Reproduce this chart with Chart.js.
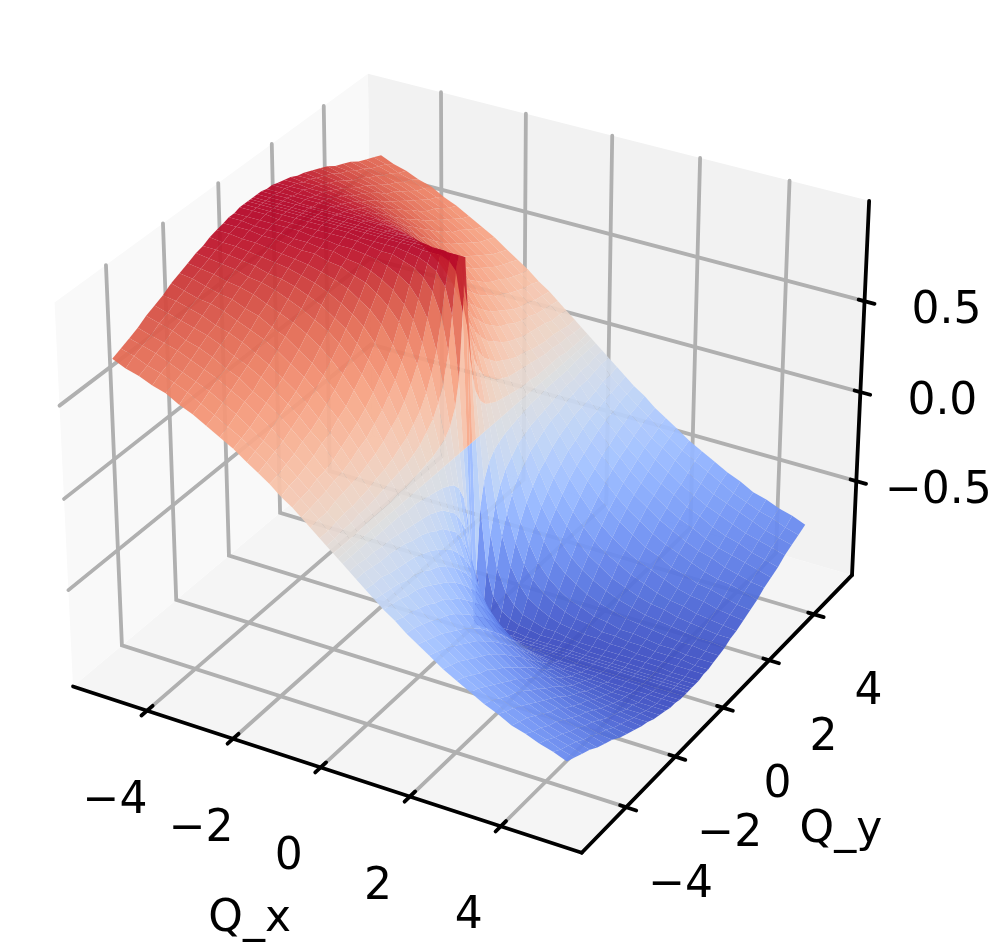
<!DOCTYPE html>
<html>
<head>
<meta charset="utf-8">
<style>
  html, body { margin: 0; padding: 0; background: #fff; }
  canvas { display: block; }
</style>
<script src="https://cdn.jsdelivr.net/npm/chart.js@4"></script>
</head>
<body>
<canvas id="surface" width="996" height="948"></canvas>
<script>
// grid nodes of the surface, finer around the centre where it folds
const qxNodes = [-5,-4.7,-4.4,-4.1,-3.8,-3.5,-3.2,-2.9,-2.6,-2.3,-2,-1.75,-1.5,-1.25,-1,-0.8,-0.6,-0.4,-0.25,-0.1,0,0.1,0.25,0.4,0.6,0.8,1,1.25,1.5,1.75,2,2.3,2.6,2.9,3.2,3.5,3.8,4.1,4.4,4.7,5];
const qyNodes = [-5,-4.7,-4.4,-4.1,-3.8,-3.5,-3.2,-2.9,-2.6,-2.3,-2,-1.75,-1.5,-1.25,-1,-0.8,-0.6,-0.4,-0.25,-0.1,0,0.1,0.25,0.4,0.6,0.8,1,1.25,1.5,1.75,2,2.3,2.6,2.9,3.2,3.5,3.8,4.1,4.4,4.7,5];

// height, one row per qyNodes entry, one column per qxNodes entry
const zRows = [
  [.71,.68,.66,.63,.61,.57,.54,.50,.46,.42,.37,.33,.29,.24,.20,.16,.12,.08,.05,.02,0,-.02,-.05,-.08,-.12,-.16,-.20,-.24,-.29,-.33,-.37,-.42,-.46,-.50,-.54,-.57,-.61,-.63,-.66,-.68,-.71],
  [.73,.71,.68,.66,.63,.60,.56,.52,.48,.44,.39,.35,.30,.26,.21,.17,.13,.08,.05,.02,0,-.02,-.05,-.08,-.13,-.17,-.21,-.26,-.30,-.35,-.39,-.44,-.48,-.52,-.56,-.60,-.63,-.66,-.68,-.71,-.73],
  [.75,.73,.71,.68,.65,.62,.59,.55,.51,.46,.41,.37,.32,.27,.22,.18,.13,.09,.06,.02,0,-.02,-.06,-.09,-.13,-.18,-.22,-.27,-.32,-.37,-.41,-.46,-.51,-.55,-.59,-.62,-.65,-.68,-.71,-.73,-.75],
  [.77,.75,.73,.71,.68,.65,.62,.58,.54,.49,.44,.39,.34,.29,.24,.19,.15,.10,.06,.02,0,-.02,-.06,-.10,-.15,-.19,-.24,-.29,-.34,-.39,-.44,-.49,-.54,-.58,-.62,-.65,-.68,-.71,-.73,-.75,-.77],
  [.80,.78,.76,.73,.71,.68,.64,.61,.56,.52,.47,.42,.37,.31,.25,.21,.16,.10,.07,.03,0,-.03,-.07,-.10,-.16,-.21,-.25,-.31,-.37,-.42,-.47,-.52,-.56,-.61,-.64,-.68,-.71,-.73,-.76,-.78,-.80],
  [.82,.80,.78,.76,.74,.71,.67,.64,.60,.55,.50,.45,.39,.34,.27,.22,.17,.11,.07,.03,0,-.03,-.07,-.11,-.17,-.22,-.27,-.34,-.39,-.45,-.50,-.55,-.60,-.64,-.67,-.71,-.74,-.76,-.78,-.80,-.82],
  [.84,.83,.81,.79,.76,.74,.71,.67,.63,.58,.53,.48,.42,.36,.30,.24,.18,.12,.08,.03,0,-.03,-.08,-.12,-.18,-.24,-.30,-.36,-.42,-.48,-.53,-.58,-.63,-.67,-.71,-.74,-.76,-.79,-.81,-.83,-.84],
  [.87,.85,.83,.82,.80,.77,.74,.71,.67,.62,.57,.52,.46,.40,.33,.27,.20,.14,.09,.03,0,-.03,-.09,-.14,-.20,-.27,-.33,-.40,-.46,-.52,-.57,-.62,-.67,-.71,-.74,-.77,-.80,-.82,-.83,-.85,-.87],
  [.89,.88,.86,.84,.83,.80,.78,.74,.71,.66,.61,.56,.50,.43,.36,.29,.22,.15,.10,.04,0,-.04,-.10,-.15,-.22,-.29,-.36,-.43,-.50,-.56,-.61,-.66,-.71,-.74,-.78,-.80,-.83,-.84,-.86,-.88,-.89],
  [.91,.90,.89,.87,.86,.84,.81,.78,.75,.71,.66,.61,.55,.48,.40,.33,.25,.17,.11,.04,0,-.04,-.11,-.17,-.25,-.33,-.40,-.48,-.55,-.61,-.66,-.71,-.75,-.78,-.81,-.84,-.86,-.87,-.89,-.90,-.91],
  [.93,.92,.91,.90,.88,.87,.85,.82,.79,.75,.71,.66,.60,.53,.45,.37,.29,.20,.12,.05,0,-.05,-.12,-.20,-.29,-.37,-.45,-.53,-.60,-.66,-.71,-.75,-.79,-.82,-.85,-.87,-.88,-.90,-.91,-.92,-.93],
  [.94,.94,.93,.92,.91,.89,.88,.86,.83,.80,.75,.71,.65,.58,.50,.42,.32,.22,.14,.06,0,-.06,-.14,-.22,-.32,-.42,-.50,-.58,-.65,-.71,-.75,-.80,-.83,-.86,-.88,-.89,-.91,-.92,-.93,-.94,-.94],
  [.96,.95,.95,.94,.93,.92,.91,.89,.87,.84,.80,.76,.71,.64,.55,.47,.37,.26,.16,.07,0,-.07,-.16,-.26,-.37,-.47,-.55,-.64,-.71,-.76,-.80,-.84,-.87,-.89,-.91,-.92,-.93,-.94,-.95,-.95,-.96],
  [.97,.97,.96,.96,.95,.94,.93,.92,.90,.88,.85,.81,.77,.71,.62,.54,.43,.30,.20,.08,0,-.08,-.20,-.30,-.43,-.54,-.62,-.71,-.77,-.81,-.85,-.88,-.90,-.92,-.93,-.94,-.95,-.96,-.96,-.97,-.97],
  [.98,.98,.98,.97,.97,.96,.95,.95,.93,.92,.89,.87,.83,.78,.71,.62,.51,.37,.24,.10,0,-.10,-.24,-.37,-.51,-.62,-.71,-.78,-.83,-.87,-.89,-.92,-.93,-.95,-.95,-.96,-.97,-.97,-.98,-.98,-.98],
  [.99,.99,.98,.98,.98,.97,.97,.96,.96,.94,.93,.91,.88,.84,.78,.71,.60,.45,.30,.12,0,-.12,-.30,-.45,-.60,-.71,-.78,-.84,-.88,-.91,-.93,-.94,-.96,-.96,-.97,-.97,-.98,-.98,-.98,-.99,-.99],
  [.99,.99,.99,.99,.99,.99,.98,.98,.97,.97,.96,.95,.93,.90,.86,.80,.71,.55,.38,.16,0,-.16,-.38,-.55,-.71,-.80,-.86,-.90,-.93,-.95,-.96,-.97,-.97,-.98,-.98,-.99,-.99,-.99,-.99,-.99,-.99],
  [1,1,1,.99,.99,.99,.99,.99,.99,.99,.98,.97,.97,.95,.93,.89,.83,.71,.53,.24,0,-.24,-.53,-.71,-.83,-.89,-.93,-.95,-.97,-.97,-.98,-.99,-.99,-.99,-.99,-.99,-.99,-.99,-1,-1,-1],
  [1,1,1,1,1,1,1,1,1,.99,.99,.99,.99,.98,.97,.95,.92,.85,.71,.37,0,-.37,-.71,-.85,-.92,-.95,-.97,-.98,-.99,-.99,-.99,-.99,-1,-1,-1,-1,-1,-1,-1,-1,-1],
  [1,1,1,1,1,1,1,1,1,1,1,1,1,1,.99,.99,.99,.97,.93,.71,0,-.71,-.93,-.97,-.99,-.99,-.99,-1,-1,-1,-1,-1,-1,-1,-1,-1,-1,-1,-1,-1,-1],
  [1,1,1,1,1,1,1,1,1,1,1,1,1,1,1,1,1,1,1,1,0,-1,-1,-1,-1,-1,-1,-1,-1,-1,-1,-1,-1,-1,-1,-1,-1,-1,-1,-1,-1],
  [1,1,1,1,1,1,1,1,1,1,1,1,1,1,.99,.99,.99,.97,.93,.71,0,-.71,-.93,-.97,-.99,-.99,-.99,-1,-1,-1,-1,-1,-1,-1,-1,-1,-1,-1,-1,-1,-1],
  [1,1,1,1,1,1,1,1,1,.99,.99,.99,.99,.98,.97,.95,.92,.85,.71,.37,0,-.37,-.71,-.85,-.92,-.95,-.97,-.98,-.99,-.99,-.99,-.99,-1,-1,-1,-1,-1,-1,-1,-1,-1],
  [1,1,1,.99,.99,.99,.99,.99,.99,.99,.98,.97,.97,.95,.93,.89,.83,.71,.53,.24,0,-.24,-.53,-.71,-.83,-.89,-.93,-.95,-.97,-.97,-.98,-.99,-.99,-.99,-.99,-.99,-.99,-.99,-1,-1,-1],
  [.99,.99,.99,.99,.99,.99,.98,.98,.97,.97,.96,.95,.93,.90,.86,.80,.71,.55,.38,.16,0,-.16,-.38,-.55,-.71,-.80,-.86,-.90,-.93,-.95,-.96,-.97,-.97,-.98,-.98,-.99,-.99,-.99,-.99,-.99,-.99],
  [.99,.99,.98,.98,.98,.97,.97,.96,.96,.94,.93,.91,.88,.84,.78,.71,.60,.45,.30,.12,0,-.12,-.30,-.45,-.60,-.71,-.78,-.84,-.88,-.91,-.93,-.94,-.96,-.96,-.97,-.97,-.98,-.98,-.98,-.99,-.99],
  [.98,.98,.98,.97,.97,.96,.95,.95,.93,.92,.89,.87,.83,.78,.71,.62,.51,.37,.24,.10,0,-.10,-.24,-.37,-.51,-.62,-.71,-.78,-.83,-.87,-.89,-.92,-.93,-.95,-.95,-.96,-.97,-.97,-.98,-.98,-.98],
  [.97,.97,.96,.96,.95,.94,.93,.92,.90,.88,.85,.81,.77,.71,.62,.54,.43,.30,.20,.08,0,-.08,-.20,-.30,-.43,-.54,-.62,-.71,-.77,-.81,-.85,-.88,-.90,-.92,-.93,-.94,-.95,-.96,-.96,-.97,-.97],
  [.96,.95,.95,.94,.93,.92,.91,.89,.87,.84,.80,.76,.71,.64,.55,.47,.37,.26,.16,.07,0,-.07,-.16,-.26,-.37,-.47,-.55,-.64,-.71,-.76,-.80,-.84,-.87,-.89,-.91,-.92,-.93,-.94,-.95,-.95,-.96],
  [.94,.94,.93,.92,.91,.89,.88,.86,.83,.80,.75,.71,.65,.58,.50,.42,.32,.22,.14,.06,0,-.06,-.14,-.22,-.32,-.42,-.50,-.58,-.65,-.71,-.75,-.80,-.83,-.86,-.88,-.89,-.91,-.92,-.93,-.94,-.94],
  [.93,.92,.91,.90,.88,.87,.85,.82,.79,.75,.71,.66,.60,.53,.45,.37,.29,.20,.12,.05,0,-.05,-.12,-.20,-.29,-.37,-.45,-.53,-.60,-.66,-.71,-.75,-.79,-.82,-.85,-.87,-.88,-.90,-.91,-.92,-.93],
  [.91,.90,.89,.87,.86,.84,.81,.78,.75,.71,.66,.61,.55,.48,.40,.33,.25,.17,.11,.04,0,-.04,-.11,-.17,-.25,-.33,-.40,-.48,-.55,-.61,-.66,-.71,-.75,-.78,-.81,-.84,-.86,-.87,-.89,-.90,-.91],
  [.89,.88,.86,.84,.83,.80,.78,.74,.71,.66,.61,.56,.50,.43,.36,.29,.22,.15,.10,.04,0,-.04,-.10,-.15,-.22,-.29,-.36,-.43,-.50,-.56,-.61,-.66,-.71,-.74,-.78,-.80,-.83,-.84,-.86,-.88,-.89],
  [.87,.85,.83,.82,.80,.77,.74,.71,.67,.62,.57,.52,.46,.40,.33,.27,.20,.14,.09,.03,0,-.03,-.09,-.14,-.20,-.27,-.33,-.40,-.46,-.52,-.57,-.62,-.67,-.71,-.74,-.77,-.80,-.82,-.83,-.85,-.87],
  [.84,.83,.81,.79,.76,.74,.71,.67,.63,.58,.53,.48,.42,.36,.30,.24,.18,.12,.08,.03,0,-.03,-.08,-.12,-.18,-.24,-.30,-.36,-.42,-.48,-.53,-.58,-.63,-.67,-.71,-.74,-.76,-.79,-.81,-.83,-.84],
  [.82,.80,.78,.76,.74,.71,.67,.64,.60,.55,.50,.45,.39,.34,.27,.22,.17,.11,.07,.03,0,-.03,-.07,-.11,-.17,-.22,-.27,-.34,-.39,-.45,-.50,-.55,-.60,-.64,-.67,-.71,-.74,-.76,-.78,-.80,-.82],
  [.80,.78,.76,.73,.71,.68,.64,.61,.56,.52,.47,.42,.37,.31,.25,.21,.16,.10,.07,.03,0,-.03,-.07,-.10,-.16,-.21,-.25,-.31,-.37,-.42,-.47,-.52,-.56,-.61,-.64,-.68,-.71,-.73,-.76,-.78,-.80],
  [.77,.75,.73,.71,.68,.65,.62,.58,.54,.49,.44,.39,.34,.29,.24,.19,.15,.10,.06,.02,0,-.02,-.06,-.10,-.15,-.19,-.24,-.29,-.34,-.39,-.44,-.49,-.54,-.58,-.62,-.65,-.68,-.71,-.73,-.75,-.77],
  [.75,.73,.71,.68,.65,.62,.59,.55,.51,.46,.41,.37,.32,.27,.22,.18,.13,.09,.06,.02,0,-.02,-.06,-.09,-.13,-.18,-.22,-.27,-.32,-.37,-.41,-.46,-.51,-.55,-.59,-.62,-.65,-.68,-.71,-.73,-.75],
  [.73,.71,.68,.66,.63,.60,.56,.52,.48,.44,.39,.35,.30,.26,.21,.17,.13,.08,.05,.02,0,-.02,-.05,-.08,-.13,-.17,-.21,-.26,-.30,-.35,-.39,-.44,-.48,-.52,-.56,-.60,-.63,-.66,-.68,-.71,-.73],
  [.71,.68,.66,.63,.61,.57,.54,.50,.46,.42,.37,.33,.29,.24,.20,.16,.12,.08,.05,.02,0,-.02,-.05,-.08,-.12,-.16,-.20,-.24,-.29,-.33,-.37,-.42,-.46,-.50,-.54,-.57,-.61,-.63,-.66,-.68,-.71]
];

const xTicks = [-4, -2, 0, 2, 4];
const yTicks = [-4, -2, 0, 2, 4];
const zTicks = [-0.5, 0, 0.5];
const xTickLabels = ["\u22124", "\u22122", "0", "2", "4"];
const yTickLabels = ["\u22124", "\u22122", "0", "2", "4"];
const zTickLabels = ["\u22120.5", "0.0", "0.5"];

// axis limits of the box
const xyLimit = 5.75;
const zLimit = 1.04;

// coolwarm, 33 stops from z=-1 to z=1
const coolwarm = [
  [59,76,192],[68,90,204],[77,104,215],[87,117,225],[98,130,234],[108,142,241],[119,154,247],[130,165,251],
  [141,176,254],[152,185,255],[163,194,255],[174,201,253],[184,208,249],[194,213,244],[204,217,238],[213,219,230],
  [221,221,221],[229,216,209],[236,211,197],[241,204,185],[245,196,173],[247,187,160],[247,177,148],[247,166,135],
  [244,154,123],[241,141,111],[236,127,99],[229,112,88],[222,96,77],[213,77,66],[203,55,55],[192,26,45],[180,4,38]
];

function surfaceColor(z) {
  const t = Math.max(0, Math.min(1, (z + 1) / 2)) * (coolwarm.length - 1);
  const i = Math.min(coolwarm.length - 2, Math.floor(t));
  const f = t - i;
  const c = coolwarm[i].map((v, k) => Math.round(v + (coolwarm[i + 1][k] - v) * f));
  return `rgba(${c[0]},${c[1]},${c[2]},0.94)`;
}

// mplot3d style camera: elev 30, azim -60, dist 10, box aspect 4:4:3
const boxXY = 0.5952;
const boxZ = 0.4464;

function view(x, y, z) {
  const dx = (x / xyLimit) * boxXY;
  const dy = (y / xyLimit) * boxXY;
  const dz = (z / zLimit) * boxZ;
  const u = 0.866 * dx + 0.5 * dy;
  const v = -0.25 * dx + 0.433 * dy + 0.866 * dz;
  const w = 0.433 * dx - 0.75 * dy + 0.5 * dz;
  return { u: u, v: v, w: w };
}

function project(x, y, z) {
  const p = view(x, y, z);
  return { x: p.u / (10 - p.w), y: p.v / (10 - p.w) };
}

function lineDataset(points3d, color, width, order) {
  return {
    data: points3d.map(p => project(p[0], p[1], p[2])),
    showLine: true,
    fill: false,
    borderColor: color,
    borderWidth: width,
    borderCapStyle: "round",
    pointRadius: 0,
    order: order
  };
}

function shapeDataset(points3d, color, order) {
  return {
    data: points3d.map(p => project(p[0], p[1], p[2])),
    showLine: true,
    fill: "shape",
    backgroundColor: color,
    borderWidth: 0,
    borderColor: "rgba(0,0,0,0)",
    pointRadius: 0,
    order: order
  };
}

const L = xyLimit;
const Z = zLimit;
const datasets = [];

// panes go first (highest order is painted first)
datasets.push(shapeDataset([[-L,-L,-Z],[-L,L,-Z],[-L,L,Z],[-L,-L,Z]], "#f9f9f9", 100003));
datasets.push(shapeDataset([[-L,L,-Z],[L,L,-Z],[L,L,Z],[-L,L,Z]], "#f2f2f2", 100003));
datasets.push(shapeDataset([[-L,-L,-Z],[L,-L,-Z],[L,L,-Z],[-L,L,-Z]], "#f5f5f5", 100003));

// grid lines over the panes
const gridColor = "#b0b0b0";
xTicks.forEach(t => datasets.push(lineDataset([[t,-L,-Z],[t,L,-Z],[t,L,Z]], gridColor, 3.8, 100002)));
yTicks.forEach(t => datasets.push(lineDataset([[L,t,-Z],[-L,t,-Z],[-L,t,Z]], gridColor, 3.8, 100002)));
zTicks.forEach(t => datasets.push(lineDataset([[-L,-L,t],[-L,L,t],[L,L,t]], gridColor, 3.8, 100002)));

// black axis lines and tick marks
datasets.push(lineDataset([[-L,-L,-Z],[L,-L,-Z]], "#000", 3.8, 100001));
datasets.push(lineDataset([[L,-L,-Z],[L,L,-Z]], "#000", 3.8, 100001));
datasets.push(lineDataset([[L,L,-Z],[L,L,Z]], "#000", 3.8, 100001));
xTicks.forEach(t => datasets.push(lineDataset([[t,-L+0.2,-Z],[t,-L-0.2,-Z]], "#000", 3.8, 100001)));
yTicks.forEach(t => datasets.push(lineDataset([[L-0.13,t,-Z],[L+0.22,t,-Z]], "#000", 3.8, 100001)));
zTicks.forEach(t => datasets.push(lineDataset([[L-0.13,L,t],[L+0.22,L,t]], "#000", 3.8, 100001)));

// one filled quad per grid cell, sorted far to near
const cells = [];
for (let j = 0; j < qyNodes.length - 1; j++) {
  for (let i = 0; i < qxNodes.length - 1; i++) {
    const corners = [
      [qxNodes[i], qyNodes[j], zRows[j][i]],
      [qxNodes[i + 1], qyNodes[j], zRows[j][i + 1]],
      [qxNodes[i + 1], qyNodes[j + 1], zRows[j + 1][i + 1]],
      [qxNodes[i], qyNodes[j + 1], zRows[j + 1][i]]
    ];
    const depth = corners.reduce((s, c) => s + view(c[0], c[1], c[2]).w, 0) / 4;
    const meanZ = corners.reduce((s, c) => s + c[2], 0) / 4;
    cells.push({ corners, depth, meanZ });
  }
}
cells.sort((a, b) => a.depth - b.depth);
cells.forEach((c, k) => {
  datasets.push(shapeDataset(c.corners, surfaceColor(c.meanZ), cells.length - k));
});

// tick labels and axis names are plain text hung off the projected ticks
const textPlugin = {
  id: "axisText",
  afterDraw(chart) {
    const ctx = chart.ctx;
    const sx = chart.scales.x;
    const sy = chart.scales.y;
    const put = (text, p, ox, oy) => {
      ctx.fillText(text, sx.getPixelForValue(p.x) + ox, sy.getPixelForValue(p.y) + oy);
    };
    ctx.save();
    ctx.font = '44px "DejaVu Sans"';
    ctx.fillStyle = "#000";
    ctx.textAlign = "center";
    ctx.textBaseline = "alphabetic";
    xTicks.forEach((t, i) => put(xTickLabels[i], project(t, -L, -Z), -32, 102));
    yTicks.forEach((t, i) => put(yTickLabels[i], project(L, t, -Z), 54.5, 89.5));
    zTicks.forEach((t, i) => put(zTickLabels[i], project(L, L, t), 82, 22));
    put("Q_x", project(0, -L, -Z), -71, 164);
    put("Q_y", project(L, 0, -Z), 118, 134);
    ctx.restore();
  }
};

new Chart(document.getElementById("surface"), {
  type: "scatter",
  data: { datasets: datasets },
  plugins: [textPlugin],
  options: {
    responsive: false,
    animation: false,
    events: [],
    layout: { padding: 0 },
    plugins: { legend: { display: false }, tooltip: { enabled: false } },
    scales: {
      x: { type: "linear", display: false, min: -0.09594, max: 0.1075 },
      y: { type: "linear", display: false, min: -0.10276, max: 0.09071 }
    }
  }
});
</script>
</body>
</html>
